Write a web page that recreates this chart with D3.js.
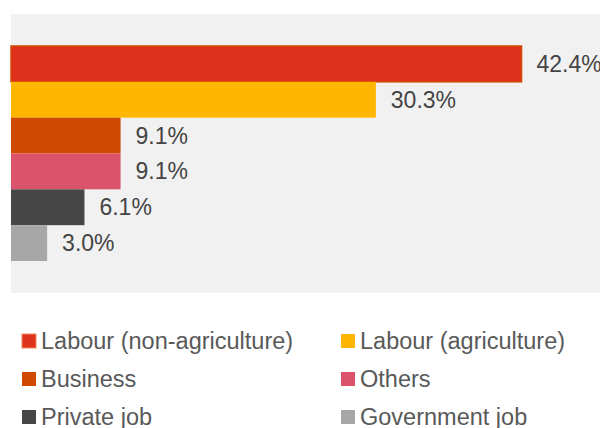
<!DOCTYPE html>
<html>
<head>
<meta charset="utf-8">
<script src="https://cdn.jsdelivr.net/npm/d3@7"></script>
<style>
  body { margin: 0; background: #fff; }
  text { font-family: "Liberation Sans", Arial, sans-serif; }
</style>
</head>
<body>
<svg id="chart" width="600" height="428"></svg>
<script>
const categories = ["Labour (non-agriculture)", "Labour (agriculture)", "Business", "Others", "Private job", "Government job"];
const values = [42.4, 30.3, 9.1, 9.1, 6.1, 3.0];
const colors = ["#E0301E", "#FFB600", "#D04A02", "#DB536A", "#464646", "#A7A7A7"];

const svg = d3.select("#chart");

// plot area
svg.append("rect")
  .attr("x", 11).attr("y", 14)
  .attr("width", 589).attr("height", 279)
  .attr("fill", "#f1f1f1");

const xScale = d3.scaleLinear().domain([0, 49]).range([11, 601]);
const yScale = d3.scaleBand().domain(categories).range([46, 261]).padding(0);

// bars
svg.selectAll(".bar")
  .data(categories)
  .enter()
  .append("rect")
  .attr("class", "bar")
  .attr("x", xScale(0))
  .attr("y", (d) => yScale(d))
  .attr("width", (d, i) => xScale(values[i]) - xScale(0))
  .attr("height", yScale.bandwidth())
  .attr("fill", (d, i) => colors[i])
  .attr("stroke", (d, i) => i === 0 ? "#D04A02" : "none")
  .attr("stroke-width", 1.5);

// value labels
svg.selectAll(".label")
  .data(categories)
  .enter()
  .append("text")
  .attr("class", "label")
  .attr("x", (d, i) => xScale(values[i]) + 15)
  .attr("y", (d) => yScale(d) + yScale.bandwidth() / 2)
  .attr("dy", "0.35em")
  .attr("font-size", 23)
  .attr("fill", "#444")
  .text((d, i) => values[i].toFixed(1) + "%");

// legend
const legend = svg.selectAll(".legend")
  .data(categories)
  .enter()
  .append("g")
  .attr("class", "legend")
  .attr("transform", (d, i) => `translate(${i % 2 === 0 ? 22 : 341}, ${341 + Math.floor(i / 2) * 38})`);

legend.append("rect")
  .attr("x", 0).attr("y", -7)
  .attr("width", 14).attr("height", 14)
  .attr("fill", (d, i) => colors[i])
  .attr("stroke", (d, i) => i === 0 ? "#F08C60" : "none")
  .attr("stroke-width", 1);

legend.append("text")
  .attr("x", 19)
  .attr("y", 0)
  .attr("dy", "0.35em")
  .attr("font-size", 23.5)
  .attr("fill", "#595959")
  .text((d) => d);
</script>
</body>
</html>
